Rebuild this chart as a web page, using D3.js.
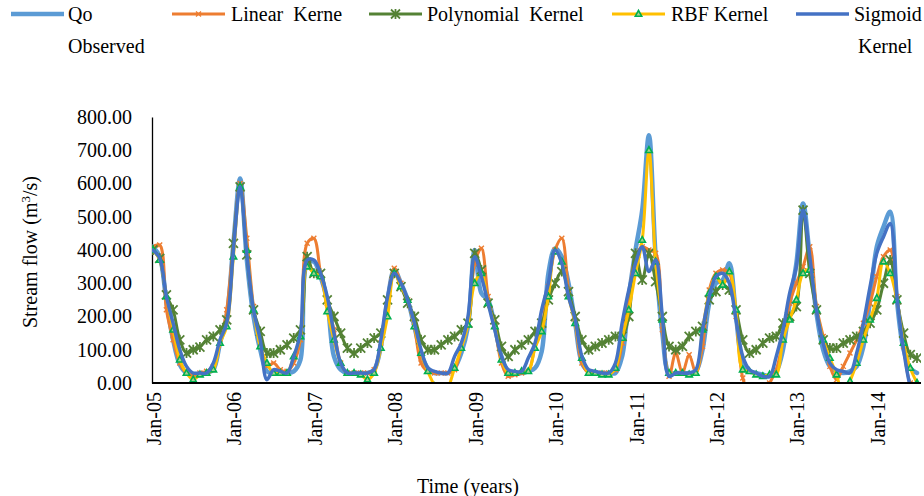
<!DOCTYPE html>
<html>
<head>
<meta charset="utf-8">
<script src="https://cdn.jsdelivr.net/npm/d3@7/dist/d3.min.js"></script>
<style>
body { margin: 0; background: #fff; }
svg text { font-family: "Liberation Serif", "Times New Roman", serif !important; fill: #000; white-space: pre; }
</style>
</head>
<body>
<script>
// x labels, one every 12 months (month 0 = Jan-05)
var tickLabels = ["Jan-05", "Jan-06", "Jan-07", "Jan-08", "Jan-09", "Jan-10", "Jan-11", "Jan-12", "Jan-13", "Jan-14"];
var yTicks = [0, 100, 200, 300, 400, 500, 600, 700, 800];

// monthly stream flow, Jan-05 .. Jul-14
var qoObserved = [
    410, 380, 245, 130, 55, 30, 25, 25, 30, 40, 120, 200,
    420, 615, 370, 200, 100, 35, 30, 30, 30, 35, 70, 360,
    365, 320, 245, 80, 40, 30, 30, 30, 30, 40, 110, 250,
    340, 300, 250, 170, 90, 45, 30, 30, 30, 45, 90, 170,
    400, 270, 250, 170, 80, 35, 30, 30, 35, 45, 95, 330,
    405, 380, 300, 180, 60, 35, 30, 30, 30, 30, 80, 260,
    400, 520, 745, 380, 150, 30, 30, 30, 30, 35, 100, 240,
    300, 310, 360, 200, 60, 35, 30, 25, 20, 35, 100, 240,
    360, 540, 380, 210, 100, 50, 35, 30, 35, 50, 110, 250,
    410, 470, 515, 250, 100, 45, 30
];
var linearKernel = [
    410, 415, 220, 130, 60, 30, 25, 30, 35, 50, 120, 220,
    420, 600, 435, 230, 120, 50, 60, 40, 35, 60, 130, 420,
    435, 330, 240, 160, 60, 30, 30, 30, 30, 40, 120, 250,
    345, 300, 250, 170, 60, 35, 30, 30, 30, 40, 110, 180,
    360, 405, 260, 170, 60, 20, 25, 30, 35, 110, 170, 290,
    400, 435, 280, 180, 60, 30, 30, 30, 30, 40, 120, 260,
    380, 410, 400, 390, 160, 20, 90, 30, 85, 30, 110, 280,
    330, 340, 330, 200, 15, -30, -40, -30, 0, 40, 130, 240,
    300, 350, 410, 230, 140, 50, 10, 50, 90, 130, 180, 240,
    320, 380, 400, 260, 110, 0, -20
];
var polyKernel = [
    400, 375, 265, 220, 130, 90, 100, 108, 130, 140, 160, 190,
    420, 590, 385, 220, 155, 90, 90, 100, 115, 135, 160, 380,
    330, 330, 250, 200, 150, 105, 90, 105, 120, 135, 150, 250,
    330, 290, 240, 200, 130, 100, 100, 115, 130, 140, 160, 180,
    390, 340, 240, 190, 110, 80, 100, 115, 130, 155, 180, 250,
    300, 335, 275, 200, 130, 100, 110, 120, 130, 140, 140, 200,
    390, 310, 390, 305, 200, 110, 100, 110, 140, 155, 170, 250,
    275, 295, 280, 220, 130, 90, 100, 120, 135, 140, 180, 200,
    230, 520, 330, 220, 130, 105, 105, 120, 130, 140, 155, 180,
    220, 300, 370, 250, 150, 85, 75
];
var rbfKernel = [
    400, 370, 260, 160, 70, 30, 10, 25, 30, 40, 120, 170,
    380, 590, 400, 220, 110, 60, 30, 30, 30, 80, 140, 350,
    330, 320, 215, 130, 60, 30, 30, 25, 10, 30, 105, 200,
    330, 290, 250, 170, 90, 35, -10, -70, -20, 45, 105, 175,
    300, 330, 240, 170, 70, 30, 30, 35, 35, 105, 155, 260,
    395, 365, 260, 180, 75, 30, 30, 25, 25, 45, 135, 220,
    330, 430, 700, 365, 190, 30, 30, 30, 25, 30, 160, 270,
    320, 295, 335, 220, 40, 35, 25, 20, 25, 25, 130, 190,
    250, 330, 340, 220, 130, 75, 25, -40, 5, 60, 130, 190,
    255, 365, 330, 250, 120, 45, 0
];
var sigmoidKernel = [
    400, 375, 260, 180, 100, 50, 30, 30, 30, 60, 130, 180,
    400, 590, 390, 220, 130, 10, 40, 35, 30, 80, 150, 370,
    370, 330, 260, 150, 60, 30, 30, 30, 30, 40, 130, 260,
    330, 300, 250, 180, 100, 45, 35, 30, 30, 80, 120, 200,
    380, 320, 240, 160, 80, 40, 35, 35, 75, 120, 220, 300,
    400, 360, 260, 190, 80, 40, 35, 30, 30, 60, 180, 280,
    360, 410, 335, 370, 200, 20, 30, 30, 30, 40, 160, 260,
    320, 330, 300, 190, 80, 40, 30, 20, 20, 80, 160, 270,
    350, 520, 380, 220, 120, 60, 40, 35, 30, 90, 180, 290,
    390, 440, 480, 260, 100, -10, -60
];

var width = 924, height = 496;
var plot = {left: 152, right: 921, top: 117, bottom: 383};
var serif = "'Liberation Serif', 'Times New Roman', serif";

var series = [
    {name: ["Qo", "Observed"], values: qoObserved, color: "#5B9BD5", lw: 4.5, marker: null, lx: 11, tx: 68},
    {name: ["Linear  Kerne"], values: linearKernel, color: "#ED7D31", lw: 3, marker: "x", lx: 172, tx: 231},
    {name: ["Polynomial  Kernel"], values: polyKernel, color: "#548235", lw: 3, marker: "star", lx: 369, tx: 427},
    {name: ["RBF Kernel"], values: rbfKernel, color: "#FFC000", lw: 3, marker: "tri", lx: 612, tx: 671},
    {name: ["Sigmoid", "Kernel"], values: sigmoidKernel, color: "#4472C4", lw: 3.5, marker: null, lx: 796, tx: 854}
];

var x = d3.scaleLinear().domain([0, qoObserved.length - 1]).range([153, 917]);
var y = d3.scaleLinear().domain([0, 800]).range([plot.bottom, plot.top]);

var svg = d3.select("body").append("svg")
    .attr("width", width)
    .attr("height", height)
    .attr("font-family", serif);

svg.append("defs").append("clipPath")
    .attr("id", "clip")
    .append("rect")
    .attr("x", plot.left)
    .attr("y", 100)
    .attr("width", plot.right - plot.left)
    .attr("height", plot.bottom - 100);

function markerPath(type) {
    if (type == "x") return "M-2.5,-2.5L2.5,2.5M-2.5,2.5L2.5,-2.5";
    if (type == "star") return "M-4.5,-4.5L4.5,4.5M-4.5,4.5L4.5,-4.5M0,-5L0,5";
    if (type == "tri") return "M0,-3.5L3.2,2.2L-3.2,2.2Z";
    return "";
}

function drawMarker(g, type, color) {
    var p = g.append("path").attr("d", markerPath(type));
    if (type == "tri") {
        p.attr("fill", "#A9D18E").attr("stroke", "#00B050").attr("stroke-width", 1.6);
    } else {
        p.attr("fill", "none").attr("stroke", color).attr("stroke-width", type == "star" ? 1.8 : 1.4);
    }
}

// axes
var yAxis = svg.append("g")
    .attr("transform", "translate(" + plot.left + ",0)")
    .call(d3.axisLeft(y).tickValues(yTicks).tickSize(0).tickPadding(20).tickFormat(d3.format(".2f")));
yAxis.attr("font-family", serif).attr("font-size", 20);
yAxis.select(".domain").attr("stroke", "#000").attr("stroke-width", 1.3);
yAxis.selectAll("text").style("font-family", serif).style("font-size", "20px");

var line = d3.line()
    .x(function(d, i) { return x(i); })
    .y(function(d) { return y(d); })
    .curve(d3.curveCatmullRom.alpha(0.5));

var lines = svg.append("g").attr("clip-path", "url(#clip)");

series.forEach(function(s) {
    var g = lines.append("g");
    g.append("path")
        .datum(s.values)
        .attr("d", line)
        .attr("fill", "none")
        .attr("stroke", s.color)
        .attr("stroke-width", s.lw)
        .attr("stroke-linejoin", "round")
        .attr("stroke-linecap", "round");
    if (s.marker) {
        s.values.forEach(function(v, i) {
            var m = g.append("g").attr("transform", "translate(" + x(i) + "," + y(v) + ")");
            drawMarker(m, s.marker, s.color);
        });
    }
});

// x axis line on top of the lines
svg.append("line")
    .attr("x1", plot.left).attr("x2", plot.right)
    .attr("y1", plot.bottom).attr("y2", plot.bottom)
    .attr("stroke", "#000").attr("stroke-width", 2);

svg.append("g").selectAll("text")
    .data(tickLabels)
    .enter()
    .append("text")
    .attr("transform", function(d, i) { return "translate(" + (x(i * 12) + 1) + ",392) rotate(-90)"; })
    .attr("text-anchor", "end")
    .attr("dy", "0.35em")
    .style("font-family", serif)
    .style("font-size", "20px")
    .text(function(d) { return d; });

// axis titles
var yTitle = svg.append("text")
    .attr("transform", "translate(30,252) rotate(-90)")
    .attr("text-anchor", "middle")
    .attr("dy", "0.35em")
    .style("font-family", serif)
    .style("font-size", "20px");
yTitle.append("tspan").text("Stream flow (m");
yTitle.append("tspan").attr("baseline-shift", "super").style("font-size", "13px").text("3");
yTitle.append("tspan").text("/s)");

svg.append("text")
    .attr("x", 468)
    .attr("y", 493)
    .attr("text-anchor", "middle")
    .style("font-family", serif)
    .style("font-size", "20px")
    .text("Time (years)");

// legend
var legend = svg.append("g");
series.forEach(function(s) {
    var g = legend.append("g");
    g.append("line")
        .attr("x1", s.lx).attr("x2", s.lx + 53)
        .attr("y1", 14).attr("y2", 14)
        .attr("stroke", s.color)
        .attr("stroke-width", s.lw);
    if (s.marker) {
        var m = g.append("g").attr("transform", "translate(" + (s.lx + 26.5) + ",14)");
        drawMarker(m, s.marker, s.color);
    }
    s.name.forEach(function(t, k) {
        g.append("text")
            .attr("x", s.tx + (k > 0 && s.name[0] == "Sigmoid" ? 4 : 0))
            .attr("y", 21 + k * 32)
            .style("font-family", serif)
            .style("font-size", "20px")
            .style("white-space", "pre")
            .text(t);
    });
});
</script>
</body>
</html>
